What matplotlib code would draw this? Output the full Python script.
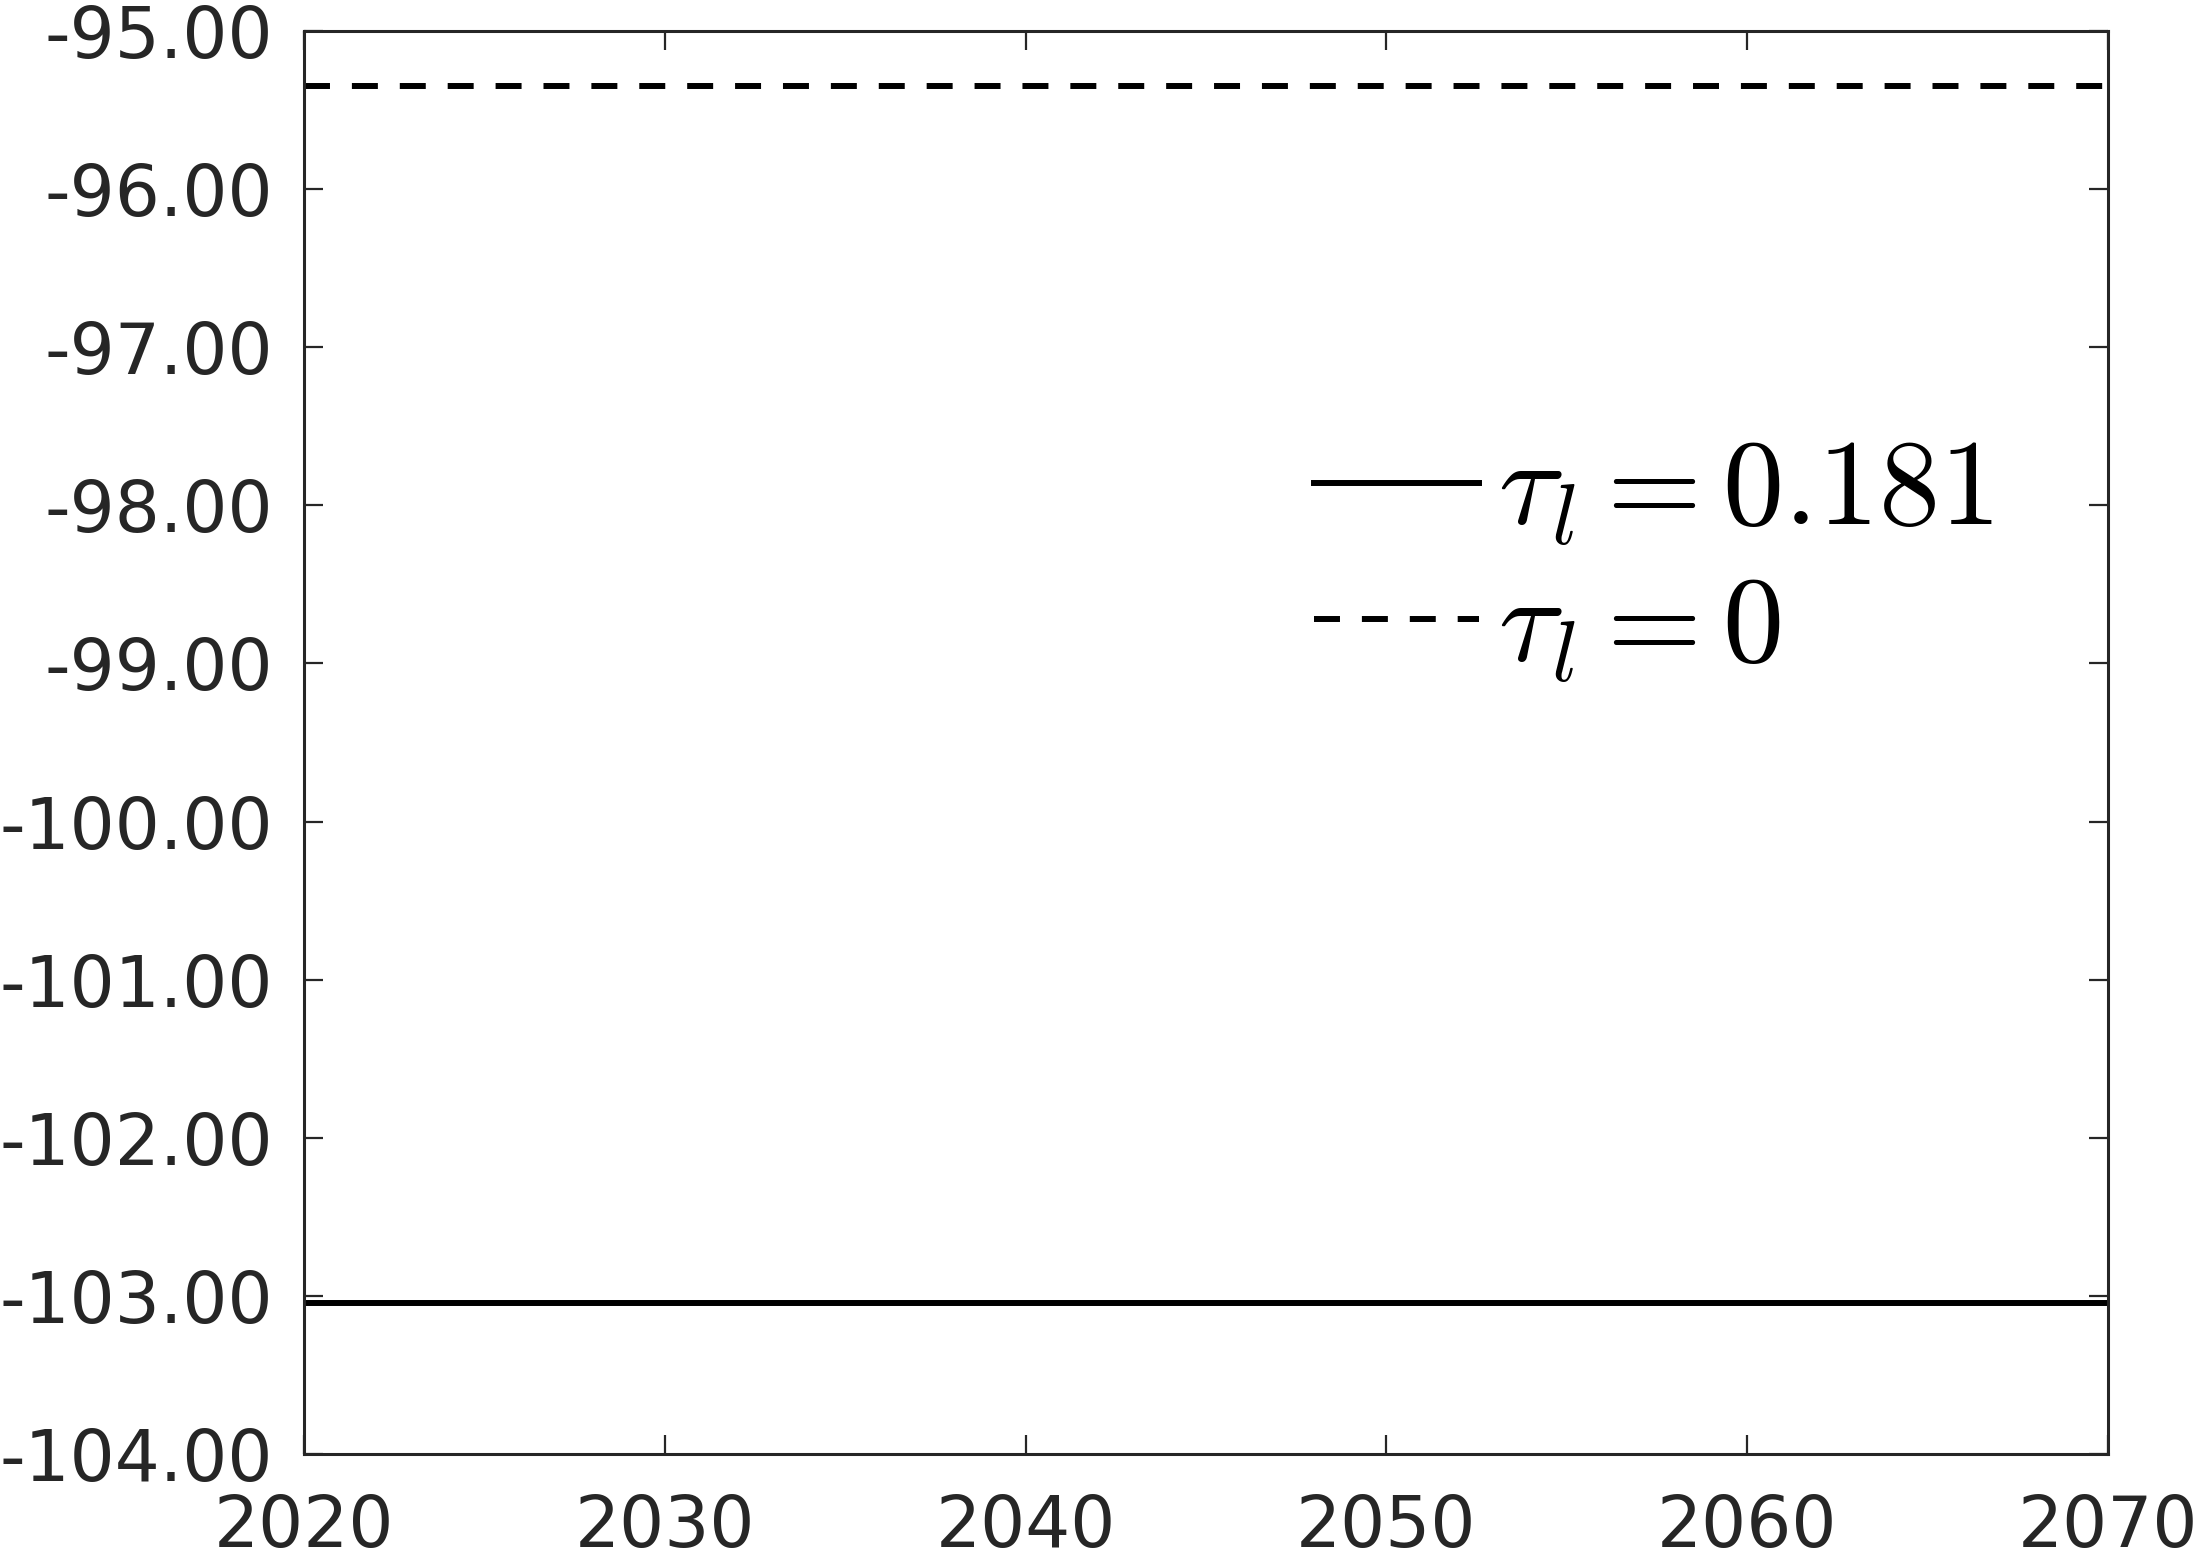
import matplotlib
matplotlib.use("Agg")
import matplotlib.pyplot as plt
import numpy as np

# years and the two flat series
years = [2020, 2030, 2040, 2050, 2060, 2070]
tau_181 = [-103.045, -103.045, -103.045, -103.045, -103.045, -103.045]
tau_0 = [-95.35, -95.35, -95.35, -95.35, -95.35, -95.35]
labels = [r"$\tau_l = 0.181$", r"$\tau_l = 0$"]
yticks = [-104, -103, -102, -101, -100, -99, -98, -97, -96, -95]

plt.rcParams["mathtext.fontset"] = "cm"
grey = "#262626"

fig = plt.figure(figsize=(21.99, 15.54), dpi=100)
ax = fig.add_axes([0.1382, 0.0644, 0.8204, 0.9156])

lw = 4.3
ax.plot(years, tau_181, color="black", linestyle="-", linewidth=lw, label=labels[0])
ax.plot(years, tau_0, color="black", linestyle=(0, (4.35, 3.67)), linewidth=lw, label=labels[1])

ax.set_xlim(2020, 2070)
ax.set_ylim(-104, -95)
ax.set_xticks(years)
ax.set_yticks(yticks)
ax.set_yticklabels(["%.2f" % v for v in yticks])

for s in ax.spines.values():
    s.set_color(grey)
    s.set_linewidth(2.2)
ax.tick_params(axis="both", direction="in", length=14, width=1.6, color=grey,
               labelcolor=grey, labelsize=51, top=True, right=True)
ax.tick_params(axis="x", pad=28)
ax.tick_params(axis="y", pad=22)

leg = ax.legend(loc="center left", bbox_to_anchor=(0.56, 0.628), frameon=False,
                fontsize=88, handlelength=1.35, handletextpad=0.15,
                borderaxespad=0, borderpad=0, labelspacing=0.16)

fig.savefig("out.png", dpi=100)
